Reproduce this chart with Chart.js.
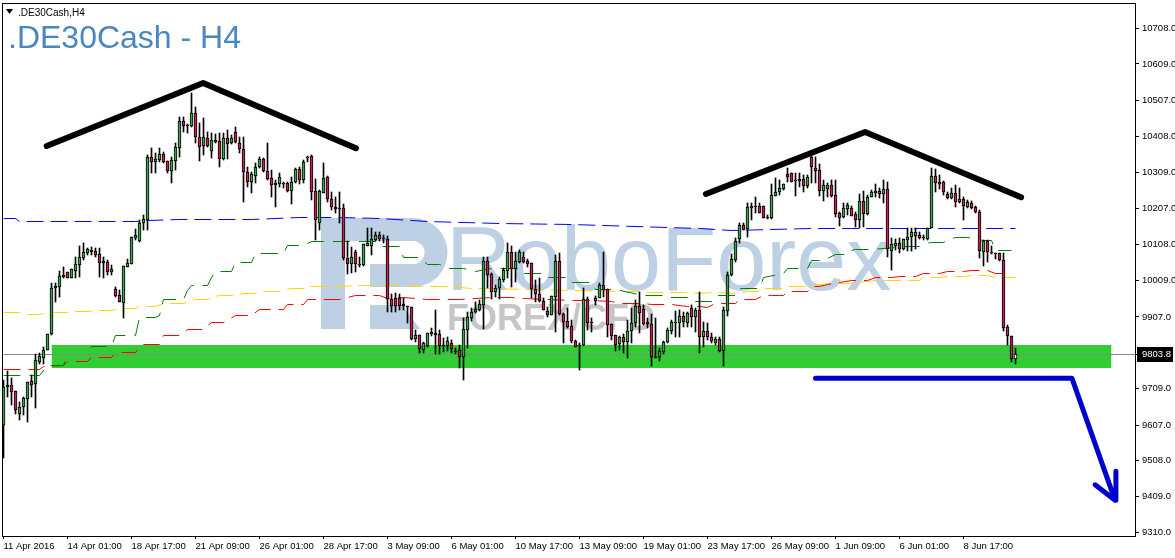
<!DOCTYPE html>
<html>
<head>
<meta charset="utf-8">
<title>.DE30Cash - H4</title>
<script src="https://cdn.jsdelivr.net/npm/chart.js@4"></script>
<style>
html, body { margin: 0; padding: 0; background: #fff; }
canvas { display: block; }
</style>
</head>
<body>
<canvas id="chart" width="1175" height="558"></canvas>
<script>
// velas H4, un valor por vela
var opens = [9606,9712,9717,9701,9637,9657,9679,9728,9720,9781,
9793,9815,9859,9987,9990,10017,10031,10015,10034,10050,
10070,10084,10086,10089,10081,10061,10059,10031,9984,9967,
9945,10045,10053,10126,10117,10167,10175,10350,10336,10342,
10359,10339,10311,10339,10375,10450,10439,10436,10472,10406,
10381,10403,10367,10392,10395,10345,10403,10389,10420,10389,
10373,10309,10280,10298,10323,10345,10311,10292,10272,10275,
10275,10278,10256,10280,10317,10286,10348,10353,10256,10167,
10251,10295,10234,10211,10209,10209,10070,10053,10086,10053,
10050,10103,10103,10120,10134,10126,10123,9956,9959,9959,
9942,9937,9934,9845,9856,9815,9826,9859,9862,9859,
9828,9826,9834,9812,9815,9795,9870,9903,9920,9926,
9939,10061,10026,9976,9987,10009,10034,10086,10040,10059,
10073,10061,10056,9984,9970,9950,9923,9912,9962,10061,
9915,9895,9881,9839,9828,9828,9956,9892,9950,9959,
9995,9984,9887,9856,9831,9851,9836,9867,9890,9937,
9928,9892,9887,9795,9795,9809,9836,9867,9890,9890,
9909,9890,9931,9906,9926,9851,9867,9851,9834,9845,
9812,9923,10023,10064,10123,10162,10151,10209,10211,10214,
10214,10184,10181,10242,10253,10261,10303,10306,10286,10283,
10289,10270,10350,10320,10314,10256,10261,10272,10245,10195,
10184,10206,10209,10192,10175,10228,10192,10239,10251,10256,
10248,10261,10089,10103,10112,10095,10120,10128,10131,10134,
10128,10123,10153,10298,10280,10280,10248,10236,10251,10225,
10234,10211,10223,10211,10198,10086,10117,10086,10084,10084,
10064,9879,9853,9790];

var closes = [9712,9717,9698,9648,9657,9682,9726,9717,9787,9798,
9815,9859,9987,9992,10020,10023,10015,10040,10053,10073,
10086,10095,10092,10078,10056,10056,10031,10040,9965,9948,
10047,10056,10128,10134,10167,10178,10350,10336,10345,10359,
10336,10311,10342,10378,10450,10436,10436,10472,10406,10378,
10406,10381,10397,10397,10345,10403,10386,10403,10392,10373,
10309,10280,10303,10323,10345,10311,10289,10272,10278,10295,
10278,10256,10280,10317,10286,10336,10350,10253,10175,10256,
10292,10234,10211,10206,10206,10070,10053,10073,10053,10050,
10109,10112,10123,10134,10123,10123,9956,9937,9937,9937,
9937,9934,9845,9856,9817,9834,9862,9865,9856,9826,
9826,9839,9817,9809,9795,9873,9906,9920,9928,9942,
10061,10023,9976,9987,10012,10037,10086,10040,10061,10086,
10059,10053,9984,9970,9950,9926,9912,9965,10061,9915,
9892,9879,9839,9823,9826,9956,9890,9890,9959,9995,
9981,9884,9853,9828,9851,9836,9867,9890,9937,9917,
9887,9887,9795,9793,9812,9836,9870,9892,9892,9909,
9892,9917,9906,9926,9851,9867,9851,9839,9845,9812,
9926,10023,10067,10117,10162,10148,10211,10214,10214,10195,
10181,10181,10245,10253,10264,10275,10295,10280,10283,10289,
10270,10295,10323,10311,10256,10272,10272,10242,10192,10181,
10209,10217,10187,10175,10228,10192,10239,10253,10256,10248,
10261,10095,10109,10112,10095,10123,10128,10142,10142,10126,
10126,10153,10298,10278,10275,10253,10236,10251,10225,10234,
10214,10225,10209,10198,10089,10117,10086,10084,10081,10064,
9876,9853,9790,9803.8];

var highs = [9731,9756,9737,9701,9670,9685,9726,9745,9804,9807,
9823,9859,10001,10001,10034,10045,10031,10040,10073,10103,
10111,10098,10101,10098,10098,10073,10064,10050,9990,9981,
10047,10067,10128,10151,10175,10189,10356,10375,10362,10375,
10364,10339,10350,10389,10461,10461,10442,10528,10489,10445,
10459,10420,10417,10414,10417,10417,10425,10411,10434,10406,
10406,10323,10309,10334,10350,10348,10389,10314,10286,10306,
10280,10280,10295,10320,10323,10342,10353,10356,10289,10259,
10334,10298,10253,10239,10253,10220,10117,10101,10092,10073,
10109,10153,10153,10142,10142,10134,10131,9970,9973,9970,
9959,9937,9934,9870,9856,9836,9862,9876,9926,9870,
9848,9851,9842,9820,9828,9903,9920,9931,9948,9953,
10073,10073,10028,9995,10017,10042,10112,10103,10086,10092,
10086,10067,10056,10009,10015,9959,9934,9965,10078,10084,
9917,9931,9898,9842,9834,9987,9962,9903,9965,10001,
10086,9984,9887,9856,9853,9859,9898,9931,9953,9976,
9939,9903,9914,9903,9820,9839,9876,9898,9923,9926,
9920,9920,9939,9931,9976,9892,9890,9862,9851,9851,
9934,10031,10081,10126,10167,10167,10223,10223,10239,10223,
10214,10189,10275,10292,10286,10275,10320,10306,10306,10306,
10300,10300,10364,10350,10331,10286,10278,10286,10286,10198,
10223,10223,10214,10198,10248,10256,10245,10259,10275,10264,
10286,10280,10126,10123,10126,10123,10153,10153,10153,10142,
10134,10153,10320,10317,10300,10283,10253,10264,10272,10264,
10239,10231,10228,10214,10203,10120,10120,10103,10084,10084,
10084,9884,9853,9820];

var lows = [9515,9685,9662,9637,9620,9634,9614,9685,9654,9776,
9776,9815,9856,9948,9962,10015,10015,10015,10015,10017,
10064,10078,10078,10073,10017,10015,10023,10023,9962,9948,
9903,10045,10053,10120,10114,10148,10148,10306,10306,10336,
10334,10306,10278,10314,10350,10420,10417,10434,10389,10339,
10356,10378,10348,10389,10323,10342,10345,10386,10389,10362,
10225,10267,10251,10278,10320,10309,10286,10239,10211,10267,
10264,10253,10220,10278,10275,10278,10336,10231,10120,10148,
10251,10225,10203,10195,10167,10064,10026,10028,10031,10045,
10047,10103,10078,10117,10117,10112,9920,9920,9920,9926,
9926,9890,9842,9836,9806,9806,9823,9853,9804,9804,
9809,9812,9806,9804,9764,9731,9820,9895,9917,9923,
9873,9987,9956,9962,9956,10003,10015,9990,10003,10056,
10056,10045,9959,9948,9948,9926,9906,9912,9865,9912,
9834,9876,9834,9823,9759,9826,9870,9865,9939,9959,
9962,9851,9842,9812,9815,9806,9793,9834,9879,9862,
9884,9876,9770,9793,9784,9804,9834,9859,9851,9851,
9879,9879,9879,9865,9806,9823,9842,9834,9828,9809,
9770,9909,10020,10059,10112,10148,10128,10175,10195,10195,
10181,10178,10178,10242,10245,10259,10280,10280,10242,10267,
10253,10264,10278,10278,10242,10228,10239,10239,10184,10159,
10181,10189,10187,10156,10153,10156,10189,10239,10239,10236,
10223,10073,10037,10092,10084,10092,10089,10089,10095,10123,
10120,10120,10153,10253,10261,10245,10234,10234,10211,10223,
10175,10209,10206,10195,10070,10047,10059,10081,10067,10061,
9867,9828,9781,9776];

// medias: indice de vela y precio
var blueIdx = [0,3,4,22,33,36,44,62,74,84,94,106,124,142,174,182,202,212,253];
var bluePrice = [10181,10181,10173,10173,10173,10175,10176,10178,10182,10184,10181,10173,10167,10164,10153,10148,10153,10153,10151];

var greenIdx = [0,4,9,11,15,16,21,22,27,28,33,34,38,39,40,45,46,47,51,52,53,57,58,62,63,70,71,75,77,84,93,94,99,100,104,106,109,111,115,118,122,127,129,130,135,136,141,142,147,148,153,160,165,166,171,172,177,178,183,184,189,190,195,196,201,202,205,208,211,212,213,217,226,229,230,232,235,236,238,241,245,247,248,252];
var greenPrice = [9743,9743,9745,9773,9773,9804,9804,9826,9826,9856,9856,9904,9904,9912,9956,9956,9981,9995,9995,10017,10034,10034,10059,10059,10084,10084,10106,10106,10117,10117,10115,10101,10101,10073,10073,10053,10053,10040,10040,10034,10040,10040,10040,10028,10028,10017,10017,10003,10003,9984,9984,9967,9967,9962,9962,9951,9951,9967,9967,9987,9987,10017,10028,10042,10042,10064,10064,10081,10081,10092,10095,10095,10101,10101,10112,10114,10114,10123,10126,10126,10120,10120,10092,10092];

var redIdx = [0,9,10,15,16,21,22,27,28,33,34,35,39,40,44,46,50,52,55,58,62,64,70,71,75,76,84,88,94,96,100,106,114,122,127,130,142,147,152,154,160,162,167,171,174,176,178,183,184,188,190,192,194,195,196,201,202,204,206,212,216,218,222,224,228,230,234,236,240,242,246,248,252];
var redPrice = [9762,9762,9768,9773,9784,9784,9795,9795,9809,9809,9826,9831,9831,9856,9856,9873,9873,9892,9892,9912,9912,9928,9928,9942,9942,9956,9956,9967,9965,9959,9962,9956,9956,9962,9962,9959,9953,9953,9951,9945,9945,9942,9942,9937,9937,9934,9945,9945,9956,9956,9965,9965,9967,9967,9978,9978,9992,9992,9998,10009,10009,10017,10017,10020,10020,10028,10028,10034,10034,10037,10037,10028,10028];

var yellowIdx = [0,4,6,9,10,13,17,18,21,24,27,29,33,34,38,40,45,48,51,52,54,57,59,60,63,64,69,70,72,75,76,85,87,98,106,111,117,121,142,156,159,162,169,174,177,183,186,189,190,195,196,201,202,205,206,211,218,229,230,234,236,240,242,246,248,253];
var yellowPrice = [9920,9920,9915,9915,9917,9919,9919,9923,9923,9926,9926,9931,9931,9937,9937,9945,9945,9956,9956,9962,9965,9965,9970,9973,9973,9978,9978,9984,9987,9987,9992,9992,9995,9995,9990,9990,9987,9987,9981,9978,9978,9976,9976,9973,9976,9973,9978,9978,9987,9987,9992,9992,9998,9998,10001,10001,10009,10009,10017,10017,10020,10020,10023,10023,10017,10017];

// zona verde, linea de precio y trazos dibujados a mano
var bandIdx = [12,277];
var bandTop = 9829;
var bandBottom = 9765;
var lastPrice = 9803.8;

var hombro1Idx = [10.8,49.9,88.1];
var hombro1Price = [10381,10556,10375];
var hombro2Idx = [175.6,215.4,254.4];
var hombro2Price = [10248,10420,10239];
var flechaIdx = [203,267.1,277.9,272.9,277.9,278.1];
var flechaPrice = [9737,9737,9398,9441,9398,9479];

var xTicks = [0,16,32,48,64,80,96,112,128,144,160,176,192,208,224,240];
var xLabels = ['11 Apr 2016','14 Apr 01:00','18 Apr 17:00','21 Apr 09:00','26 Apr 01:00','28 Apr 17:00','3 May 09:00','6 May 01:00','10 May 17:00','13 May 09:00','19 May 01:00','23 May 17:00','26 May 09:00','1 Jun 09:00','6 Jun 01:00','8 Jun 17:00'];
var yTicks = [10708,10609,10507,10408,10309,10207,10108,10009,9907,9803.8,9709,9607,9508,9409,9310];

function puntos(xs, ys) {
    return xs.map(function (x, i) { return { x: x, y: ys[i] }; });
}

function linea(xs, ys, color, ancho, dash, orden) {
    return {
        type: 'line',
        data: puntos(xs, ys),
        borderColor: color,
        borderWidth: ancho,
        borderDash: dash,
        borderCapStyle: ancho > 1 ? 'round' : 'butt',
        borderJoinStyle: ancho > 1 ? 'round' : 'miter',
        pointRadius: 0,
        tension: 0,
        fill: false,
        order: orden
    };
}

var wicks = opens.map(function (o, i) { return { x: i, y: [lows[i], highs[i]] }; });
var bodies = opens.map(function (o, i) { return { x: i, y: [o, closes[i]] }; });
var bodyColors = opens.map(function (o, i) {
    if (i === opens.length - 1) return '#ffffff';
    return closes[i] >= o ? '#3aa54a' : '#c0254f';
});

// marca de agua y titulos
var fondo = {
    id: 'fondo',
    beforeDatasetsDraw: function (chart) {
        var c = chart.ctx;
        c.save();
        c.fillStyle = '#bdd0e4';
        c.fillRect(321, 218, 24, 111);
        c.fillRect(345, 218, 68, 23);
        c.fillRect(370, 264, 43, 23);
        c.fillRect(370, 305, 20, 24);
        c.beginPath();
        c.moveTo(413, 218);
        c.arc(413, 252.5, 34.5, -Math.PI / 2, Math.PI / 2);
        c.lineTo(413, 264);
        c.arc(413, 252.5, 11.5, Math.PI / 2, -Math.PI / 2, true);
        c.closePath();
        c.fill();
        c.beginPath();
        c.moveTo(390, 305);
        c.lineTo(402, 305);
        c.lineTo(420, 329);
        c.lineTo(390, 329);
        c.closePath();
        c.fill();
        c.textBaseline = 'alphabetic';
        c.textAlign = 'left';
        c.font = '90px "Liberation Sans"';
        c.fillText('RoboForex', 446, 290);
        c.fillStyle = '#c6c6c6';
        c.font = 'bold 36px "Liberation Sans"';
        c.fillText('FOREX/CFD', 447, 330);
        c.fillStyle = '#4a86bf';
        c.font = '32px "Liberation Sans"';
        c.fillText('.DE30Cash - H4', 8, 48);
        c.fillStyle = '#000';
        c.font = '10px "Liberation Sans"';
        c.fillText('.DE30Cash,H4', 18, 16);
        c.beginPath();
        c.moveTo(6, 9);
        c.lineTo(13, 9);
        c.lineTo(9.5, 14);
        c.closePath();
        c.fill();
        c.restore();
        // velas y medias sin bordes borrosos
        chart.getSortedVisibleDatasetMetas().forEach(function (m) {
            if (m.type === 'bar') {
                m.data.forEach(function (el) {
                    el.y = Math.round(el.y);
                    el.base = Math.round(el.base);
                    if (el.y === el.base) el.base = el.y + 1;
                });
            } else if (chart.data.datasets[m.index].borderWidth === 1) {
                m.data.forEach(function (el) {
                    el.x = Math.floor(el.x) + 0.5;
                    el.y = Math.floor(el.y) + 0.5;
                });
            }
        });
    },
    afterDraw: function (chart) {
        var c = chart.ctx, a = chart.chartArea;
        var py = Math.floor(chart.scales.y.getPixelForValue(lastPrice)) + 0.5;
        c.save();
        c.strokeStyle = '#000';
        c.lineWidth = 1;
        c.strokeRect(a.left - 0.5, a.top + 0.5, a.right - a.left + 1, a.bottom - a.top);
        c.fillStyle = '#000';
        c.fillRect(1137, py - 7.5, 36, 15);
        c.fillStyle = '#fff';
        c.font = '9.5px "Liberation Sans"';
        c.textBaseline = 'middle';
        c.textAlign = 'left';
        c.fillText(lastPrice.toFixed(1), 1142, py);
        c.restore();
    }
};

new Chart(document.getElementById('chart').getContext('2d'), {
    type: 'bar',
    plugins: [fondo],
    data: {
        datasets: [
            {
                type: 'line',
                data: puntos(bandIdx, [bandTop, bandTop]),
                borderWidth: 0,
                borderColor: 'rgba(0,0,0,0)',
                backgroundColor: '#32cd32',
                pointRadius: 0,
                fill: { target: { value: bandBottom } },
                order: 10
            },
            linea(blueIdx, bluePrice, '#0000ff', 1, [17, 7], 9),
            linea(yellowIdx, yellowPrice, '#ffd700', 1, [17, 7], 8),
            linea(redIdx, redPrice, '#ff0000', 1, [17, 8], 7),
            linea(greenIdx, greenPrice, '#008000', 1, [17, 9], 6),
            linea([-0.125, 282.875], [lastPrice, lastPrice], '#808890', 1, [], 5.5),
            {
                data: wicks,
                backgroundColor: '#000',
                borderWidth: 0,
                barThickness: 1,
                grouped: false,
                order: 5
            },
            {
                data: bodies,
                backgroundColor: bodyColors,
                borderColor: '#000',
                borderWidth: 1,
                borderSkipped: false,
                barThickness: 3,
                grouped: false,
                order: 4
            },
            linea(hombro1Idx, hombro1Price, '#000', 6, [], 2),
            linea(hombro2Idx, hombro2Price, '#000', 6, [], 2),
            linea(flechaIdx, flechaPrice, '#0000cc', 5, [], 1)
        ]
    },
    options: {
        responsive: false,
        animation: false,
        events: [],
        layout: { padding: { left: 3, top: 3, right: 0, bottom: 0 } },
        plugins: { legend: { display: false }, tooltip: { enabled: false } },
        scales: {
            x: {
                type: 'linear',
                offset: false,
                min: -0.125,
                max: 282.875,
                afterBuildTicks: function (s) { s.ticks = xTicks.map(function (v) { return { value: v }; }); },
                afterFit: function (s) { s.height = 22; s.paddingLeft = 0; s.paddingRight = 0; },
                grid: { offset: false, drawOnChartArea: false, color: '#000', tickLength: 3 },
                border: { color: '#000' },
                ticks: {
                    autoSkip: false,
                    maxRotation: 0,
                    align: 'start',
                    padding: 2,
                    color: '#000',
                    font: { family: '"Liberation Sans"', size: 9.5 },
                    callback: function (v) { return xLabels[xTicks.indexOf(v)]; }
                }
            },
            y: {
                position: 'right',
                min: 9299,
                max: 10778,
                afterBuildTicks: function (s) { s.ticks = yTicks.map(function (v) { return { value: v }; }); },
                afterFit: function (s) { s.width = 40; s.paddingTop = 0; s.paddingBottom = 0; },
                grid: { drawOnChartArea: false, color: '#000', tickLength: 4 },
                border: { color: '#000' },
                ticks: {
                    autoSkip: false,
                    padding: 3,
                    color: '#000',
                    font: { family: '"Liberation Sans"', size: 9.5 },
                    callback: function (v) { return v === lastPrice ? '' : v.toFixed(1); }
                }
            }
        }
    }
});
</script>
</body>
</html>
